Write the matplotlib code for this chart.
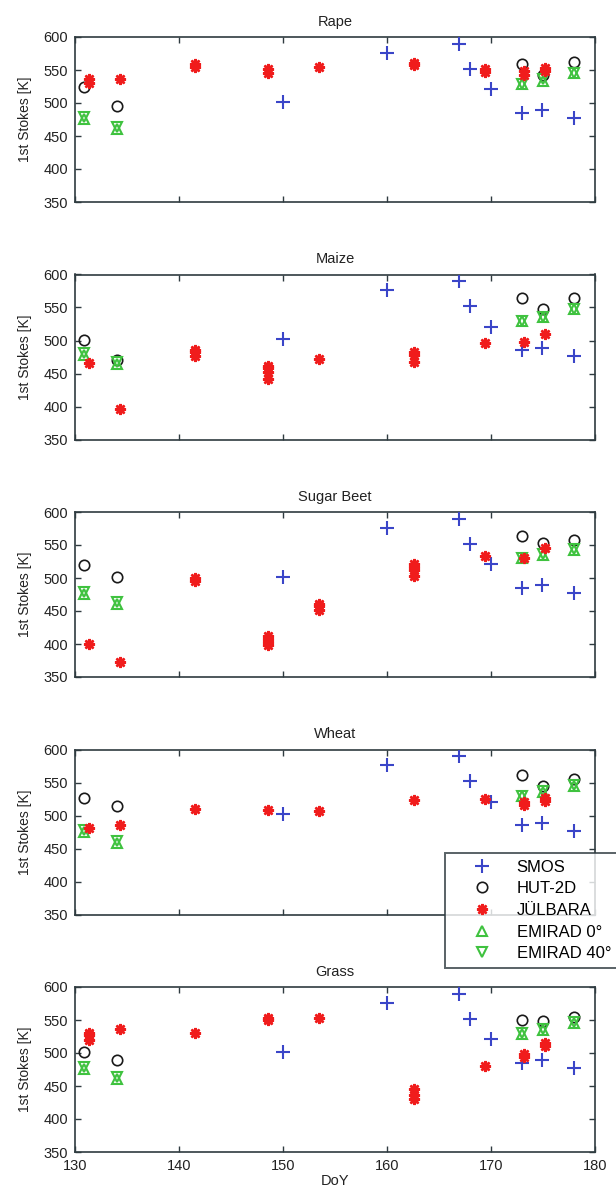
import matplotlib
matplotlib.use("Agg")
import matplotlib.pyplot as plt

plt.rcParams['font.family'] = ['Liberation Sans', 'DejaVu Sans']

# ---------------- data ----------------
panels = ["Rape", "Maize", "Sugar Beet", "Wheat", "Grass"]

smos_doy = [150, 160, 166.9, 168, 170, 173, 174.9, 178]
smos_val = [502, 576, 590, 552, 521, 485, 489, 477]

hut_doy = [130.9, 134.0, 173.0, 175.0, 178.0]
hut_rape = [525, 495, 559, 542, 562]
hut_maize = [501, 470, 565, 548, 564]
hut_sugar = [519, 501, 564, 553, 558]
hut_wheat = [527, 515, 561, 545, 556]
hut_grass = [501, 490, 550, 548, 554]

emi_doy = [130.9, 134.0, 173.0, 175.0, 178.0]
emi0_rape = [476, 460, 529, 534, 545]
emi40_rape = [479, 463, 529, 536, 545]
emi0_maize = [478, 464, 530, 535, 547]
emi40_maize = [481, 467, 530, 536, 548]
emi0_sugar = [476, 460, 530, 535, 543]
emi40_sugar = [479, 463, 531, 536, 544]
emi0_wheat = [475, 458, 529, 536, 545]
emi40_wheat = [478, 461, 530, 537, 546]
emi0_grass = [476, 460, 529, 535, 546]
emi40_grass = [479, 463, 530, 536, 547]

# JÜLBARA: (DoY, value) pairs, several per date
jul_doy_rape = [131.3, 131.3, 134.3, 141.5, 141.5, 148.6, 148.6, 153.5, 162.6, 162.6, 169.4, 169.4, 173.2, 173.2, 175.2, 175.2]
jul_val_rape = [530, 536, 536, 555, 559, 546, 551, 554, 558, 561, 547, 551, 543, 548, 548, 553]
jul_doy_maize = [131.3, 134.3, 141.5, 141.5, 141.5, 148.6, 148.6, 148.6, 148.6, 153.5, 162.6, 162.6, 162.6, 169.4, 173.2, 175.2]
jul_val_maize = [466, 396, 476, 482, 486, 442, 452, 458, 462, 472, 467, 478, 483, 496, 498, 510]
jul_doy_sugar = [131.3, 134.3, 141.5, 141.5, 148.6, 148.6, 148.6, 148.6, 153.5, 153.5, 153.5, 162.6, 162.6, 162.6, 162.6, 169.4, 173.2, 175.2]
jul_val_sugar = [400, 372, 495, 500, 398, 403, 408, 412, 452, 457, 461, 503, 512, 517, 521, 533, 531, 545]
jul_doy_wheat = [131.3, 134.3, 141.5, 148.6, 153.5, 162.6, 169.4, 173.2, 173.2, 175.2, 175.2]
jul_val_wheat = [481, 486, 510, 509, 507, 524, 525, 516, 521, 522, 527]
jul_doy_grass = [131.3, 131.3, 131.3, 134.3, 141.5, 148.6, 148.6, 153.5, 162.6, 162.6, 162.6, 169.4, 173.2, 173.2, 175.2, 175.2]
jul_val_grass = [520, 527, 531, 537, 530, 550, 553, 553, 431, 437, 445, 481, 494, 498, 510, 515]

hut_all = [hut_rape, hut_maize, hut_sugar, hut_wheat, hut_grass]
emi0_all = [emi0_rape, emi0_maize, emi0_sugar, emi0_wheat, emi0_grass]
emi40_all = [emi40_rape, emi40_maize, emi40_sugar, emi40_wheat, emi40_grass]
jul_doy_all = [jul_doy_rape, jul_doy_maize, jul_doy_sugar, jul_doy_wheat, jul_doy_grass]
jul_val_all = [jul_val_rape, jul_val_maize, jul_val_sugar, jul_val_wheat, jul_val_grass]

x_ticks = [130, 140, 150, 160, 170, 180]
y_ticks = [350, 400, 450, 500, 550, 600]

# ---------------- styling ----------------
C_SMOS = "#3a45c8"
C_HUT = "#1a1a1a"
C_JUL = "#f01c1c"
C_EMI = "#3fc23f"
C_AX = "#2f3b40"

W, H = 616, 1197
fig = plt.figure(figsize=(W / 100, H / 100), dpi=100)

left_px, right_px = 75, 595
ax_h_px = 165
tops_px = [37, 274.5, 512, 749.5, 987]

axes = []
for i, name in enumerate(panels):
    top = tops_px[i]
    rect = [left_px / W, 1 - (top + ax_h_px) / H, (right_px - left_px) / W, ax_h_px / H]
    ax = fig.add_axes(rect)
    axes.append(ax)

    ax.plot(smos_doy, smos_val, linestyle="none", marker="+", color=C_SMOS,
            markersize=10, markeredgewidth=1.5, label="SMOS", zorder=3)
    ax.plot(hut_doy, hut_all[i], linestyle="none", marker="o", markerfacecolor="none",
            markeredgecolor=C_HUT, markersize=7.5, markeredgewidth=1.2, label="HUT-2D", zorder=3)
    ax.plot(jul_doy_all[i], jul_val_all[i], linestyle="none", marker=(8, 2, 0), color=C_JUL,
            markersize=8, markeredgewidth=1.8, label="JÜLBARA", zorder=4)
    ax.plot(emi_doy, emi0_all[i], linestyle="none", marker="^", markerfacecolor="none",
            markeredgecolor=C_EMI, markersize=7.5, markeredgewidth=1.5, label="EMIRAD 0°", zorder=3)
    ax.plot(emi_doy, emi40_all[i], linestyle="none", marker="v", markerfacecolor="none",
            markeredgecolor=C_EMI, markersize=7.5, markeredgewidth=1.5, label="EMIRAD 40°", zorder=3)

    ax.set_xlim(130, 180)
    ax.set_ylim(350, 600)
    ax.set_xticks(x_ticks)
    ax.set_yticks(y_ticks)
    ax.tick_params(direction="in", top=True, right=True, length=4, width=1,
                   color=C_AX, labelsize=10.5, labelcolor="#222222", pad=5)
    if i < len(panels) - 1:
        ax.set_xticklabels([])
    for sp in ax.spines.values():
        sp.set_color(C_AX)
        sp.set_linewidth(1.2)
    ax.set_title(name, fontsize=10.5, color="#222222", pad=8)
    ax.set_ylabel("1st Stokes [K]", fontsize=10, color="#222222", labelpad=8)

axes[-1].set_xlabel("DoY", fontsize=10.5, color="#222222", labelpad=1)

handles, labels = axes[0].get_legend_handles_labels()
leg = fig.legend(handles, labels, loc="upper left",
                 bbox_to_anchor=(445 / W, 1 - 853 / H), bbox_transform=fig.transFigure,
                 fontsize=12, frameon=True, fancybox=False, borderpad=0.4,
                 handlelength=3.6, handletextpad=0.3, labelspacing=0.4,
                 borderaxespad=0, numpoints=1)
leg.get_frame().set_edgecolor(C_AX)
leg.get_frame().set_linewidth(1.4)
leg.set_zorder(10)

fig.savefig("out.png", dpi=100, facecolor="white")
